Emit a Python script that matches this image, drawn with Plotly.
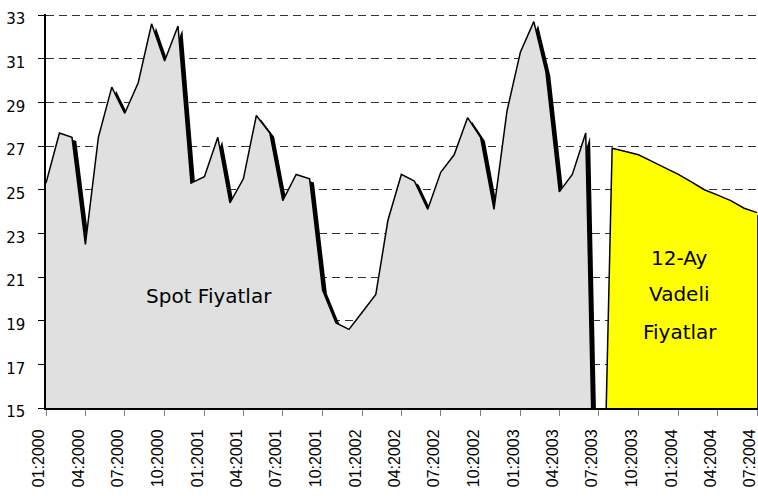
import pandas as pd
import plotly.graph_objects as go

# ---- data ----
spot_months = pd.date_range("2000-01-01", "2003-07-01", freq="MS")
spot_values = [
    25.3, 27.6, 27.4, 22.5, 27.4, 29.7, 28.5, 29.9, 32.6, 30.9, 32.5, 25.3,   # 2000
    25.6, 27.4, 24.4, 25.5, 28.4, 27.6, 24.5, 25.7, 25.5, 20.4, 18.9, 18.6,   # 2001
    19.4, 20.2, 23.6, 25.7, 25.4, 24.1, 25.8, 26.6, 28.3, 27.4, 24.1, 28.6,   # 2002
    31.3, 32.7, 30.4, 24.9, 25.7, 27.6, 0.0,                                  # 2003
]
fut_months = pd.date_range("2003-07-01", "2004-07-01", freq="MS")
fut_values = [0.0, 26.9, 26.75, 26.6, 26.3, 26.0, 25.7, 25.35, 25.0, 24.75, 24.5, 24.15, 23.95]

tick_months = pd.date_range("2000-01-01", "2004-07-01", freq="3MS")
tick_labels = [d.strftime("%m:%Y") for d in tick_months]
y_ticks = list(range(15, 34, 2))

# shadow offset (Excel style drop shadow)
shadow_dx = pd.Timedelta(days=10)
shadow_dy = 0.17

fig = go.Figure()

# shadows first
for months, vals in [(spot_months, spot_values), (fut_months, fut_values)]:
    fig.add_trace(go.Scatter(
        x=months + shadow_dx, y=[v - shadow_dy for v in vals],
        mode="lines", line=dict(width=0, color="black"),
        fill="tozeroy", fillcolor="black", hoverinfo="skip",
    ))

fig.add_trace(go.Scatter(
    x=spot_months, y=spot_values, mode="lines",
    line=dict(color="black", width=1.5),
    fill="tozeroy", fillcolor="#E0E0E0", name="Spot Fiyatlar",
))
fig.add_trace(go.Scatter(
    x=fut_months, y=fut_values, mode="lines",
    line=dict(color="black", width=1.5),
    fill="tozeroy", fillcolor="#FFFF00", name="12-Ay Vadeli Fiyatlar",
))

txt_font = dict(family="DejaVu Sans", size=20, color="black")
fig.add_annotation(x="2001-01-11", y=20.13, text="Spot Fiyatlar",
                   showarrow=False, font=txt_font, xref="x", yref="y")
for label, yv in [("12-Ay", 21.85), ("Vadeli", 20.2), ("Fiyatlar", 18.5)]:
    fig.add_annotation(x="2004-01-04", y=yv, text=label,
                       showarrow=False, font=txt_font, xref="x", yref="y")

fig.update_layout(
    width=758, height=501,
    margin=dict(l=46, r=0, t=14, b=93),
    plot_bgcolor="white", paper_bgcolor="white",
    showlegend=False,
    xaxis=dict(
        type="date", range=["2000-01-01", "2004-07-03"],
        tickvals=tick_months, ticktext=tick_labels, tickangle=-90,
        ticks="outside", ticklen=6, tickcolor="#808080", tickwidth=1,
        showgrid=False, zeroline=False,
        showline=True, linecolor="black", linewidth=2,
        tickfont=dict(family="Liberation Sans, Arial", size=16, color="black"),
        ticklabelstandoff=7, ticklabelshift=-7, ticklabeloverflow="allow",
    ),
    yaxis=dict(
        range=[15, 33.05], tickvals=y_ticks,
        ticks="outside", ticklen=6, tickcolor="black", tickwidth=1,
        showgrid=True, gridcolor="#333333", gridwidth=1, griddash="8px,5px",
        zeroline=False,
        showline=True, linecolor="black", linewidth=1.5,
        tickfont=dict(family="DejaVu Sans", size=15, color="black"),
        ticklabelstandoff=10, ticklabelshift=4,
    ),
)

fig.write_html("out.html", config={"displayModeBar": False},
               post_script="document.body.style.margin='0';")
